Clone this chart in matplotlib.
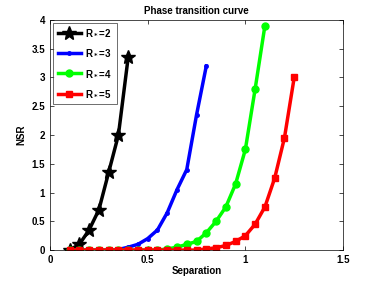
import matplotlib
matplotlib.use("Agg")
import matplotlib.pyplot as plt

x_black = [0.1, 0.15, 0.2, 0.25, 0.3, 0.35, 0.4]
y_black = [0.0, 0.1, 0.35, 0.7, 1.35, 2.0, 3.35]

x_blue = [0.1, 0.15, 0.2, 0.25, 0.3, 0.35, 0.4, 0.45, 0.5, 0.55, 0.6, 0.65, 0.7, 0.75, 0.8]
y_blue = [0.0, 0.0, 0.0, 0.0, 0.0, 0.01, 0.05, 0.1, 0.2, 0.35, 0.65, 1.05, 1.4, 2.35, 3.2]

x_green = [0.1, 0.15, 0.2, 0.25, 0.3, 0.35, 0.4, 0.45, 0.5, 0.55, 0.6, 0.65, 0.7,
           0.75, 0.8, 0.85, 0.9, 0.95, 1.0, 1.05, 1.1]
y_green = [0.0, 0.0, 0.0, 0.0, 0.0, 0.0, 0.0, 0.0, 0.0, 0.0, 0.02, 0.05, 0.1,
           0.15, 0.3, 0.5, 0.75, 1.15, 1.75, 2.8, 3.9]

x_red = [0.1, 0.15, 0.2, 0.25, 0.3, 0.35, 0.4, 0.45, 0.5, 0.55, 0.6, 0.65, 0.7,
         0.75, 0.8, 0.85, 0.9, 0.95, 1.0, 1.05, 1.1, 1.15, 1.2, 1.25]
y_red = [0.0, 0.0, 0.0, 0.0, 0.0, 0.0, 0.0, 0.0, 0.0, 0.0, 0.0, 0.0, 0.0,
         0.0, 0.02, 0.04, 0.08, 0.15, 0.25, 0.45, 0.75, 1.25, 1.95, 3.0]

labels = ["R$_*$=2", "R$_*$=3", "R$_*$=4", "R$_*$=5"]

plt.rcParams["font.family"] = ["Liberation Sans", "DejaVu Sans"]
plt.rcParams["font.weight"] = "bold"
plt.rcParams["mathtext.default"] = "bf"

fig = plt.figure(figsize=(3.82, 2.81), dpi=100)
ax = fig.add_axes([0.131, 0.110, 0.767, 0.819])

ax.plot(x_black, y_black, color="black", marker="*", lw=2.5, ms=10, label=labels[0])
ax.plot(x_blue, y_blue, color="blue", marker=".", lw=2.5, ms=5, label=labels[1])
ax.plot(x_green, y_green, color="#00ff00", marker="o", lw=2.5, ms=5, label=labels[2])
ax.plot(x_red, y_red, color="red", marker="s", lw=2.5, ms=5, label=labels[3])

ax.set_xlim(0, 1.5)
ax.set_ylim(0, 4)
ax.set_xticks([0, 0.5, 1, 1.5])
ax.set_xticklabels(["0", "0.5", "1", "1.5"])
ax.set_yticks([0, 0.5, 1, 1.5, 2, 2.5, 3, 3.5, 4])
ax.set_yticklabels(["0", "0.5", "1", "1.5", "2", "2.5", "3", "3.5", "4"])
ax.tick_params(direction="in", top=True, right=True, labelsize=7, length=3, width=0.5)
for s in ax.spines.values():
    s.set_linewidth(0.5)

ax.set_xlabel("Separation", fontsize=7, fontweight="bold", labelpad=1)
ax.set_ylabel("NSR", fontsize=7, fontweight="bold", labelpad=4)
ax.set_title("Phase transition curve", fontsize=7, fontweight="bold", pad=4)

leg = ax.legend(loc="upper left", fontsize=7, fancybox=False, edgecolor="black",
                handlelength=2.4, handletextpad=0.4, borderaxespad=0.3,
                labelspacing=1.05, borderpad=0.5)
leg.get_frame().set_linewidth(0.5)

plt.savefig("out.png", dpi=100)
